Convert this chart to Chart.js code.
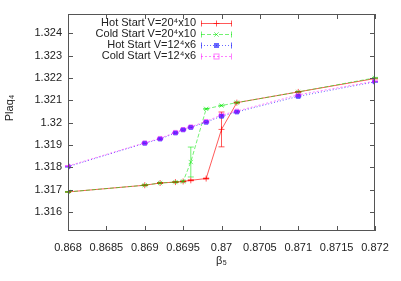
<!DOCTYPE html>
<html>
<head>
<meta charset="utf-8">
<script src="https://cdn.jsdelivr.net/npm/chart.js@4/dist/chart.umd.min.js"></script>
<style>
html, body { margin: 0; padding: 0; background: #fff; }
canvas { display: block; }
</style>
</head>
<body>
<canvas id="plaqChart" width="401" height="281"></canvas>
<script>
// beta values (same set for every run)
const betas = [0.868, 0.869, 0.8692, 0.8694, 0.8695, 0.8696, 0.8698, 0.870, 0.8702, 0.871, 0.872];

// V=20^4x10
const hot20 = [1.3169, 1.3172, 1.3173, 1.31734, 1.31737, 1.31742, 1.3175, 1.3197, 1.3209, 1.32138, 1.32198];
const hot20Err = [0.00002, 0.00002, 0.00002, 0.00002, 0.00002, 0.00002, 0.00002, 0.00078, 0.00002, 0.00002, 0.00002];
const cold20 = [1.3169, 1.3172, 1.3173, 1.31734, 1.31737, 1.31824, 1.32062, 1.32077, 1.3209, 1.32138, 1.32201];
const cold20Err = [0.00002, 0.00002, 0.00002, 0.00002, 0.00002, 0.00067, 0.00002, 0.00002, 0.00002, 0.00002, 0.00002];

// V=12^4x6
const hot12 = [1.31803, 1.31908, 1.31927, 1.31954, 1.31968, 1.31979, 1.32002, 1.32029, 1.32048, 1.32118, 1.32183];
const hot12Err = [0.00002, 0.00002, 0.00002, 0.00002, 0.00002, 0.00002, 0.00002, 0.00002, 0.00002, 0.00002, 0.00002];
const cold12 = [1.31806, 1.3191, 1.3193, 1.31957, 1.3197, 1.31982, 1.32006, 1.32035, 1.32052, 1.32125, 1.32186];
const cold12Err = [0.00002, 0.00002, 0.00002, 0.00002, 0.00002, 0.00002, 0.00002, 0.00002, 0.00002, 0.00002, 0.00002];

const seriesLabels = ["Hot Start V=20\u2074x10", "Cold Start V=20\u2074x10", "Hot Start V=12\u2074x6", "Cold Start V=12\u2074x6"];
const xTitle = "\u03b2\u2085";
const yTitle = "Plaq\u2084";

const FONT = "11px 'Liberation Sans', Arial, sans-serif";
const AXIS = "#555";

const series = [
    { label: seriesLabels[0], ys: hot20, err: hot20Err, color: "rgba(255,0,0,0.65)", dash: [], style: "cross", fill: false },
    { label: seriesLabels[1], ys: cold20, err: cold20Err, color: "rgba(0,230,0,0.55)", dash: [4, 2], style: "crossRot", fill: false },
    { label: seriesLabels[2], ys: hot12, err: hot12Err, color: "rgba(40,40,255,0.7)", dash: [1, 2], style: "rect", fill: true },
    { label: seriesLabels[3], ys: cold12, err: cold12Err, color: "rgba(255,0,255,0.5)", dash: [2, 2], style: "rect", fill: false }
];

const datasets = series.map((s, i) => ({
    label: s.label,
    data: betas.map((b, k) => ({ x: b, y: s.ys[k] })),
    errors: s.err,
    borderColor: s.color,
    backgroundColor: s.fill ? s.color : "rgba(0,0,0,0)",
    borderWidth: 1,
    borderDash: s.dash,
    pointStyle: s.style,
    pointRadius: s.style === "rect" ? 2.7 : 3,
    pointBorderWidth: 1,
    tension: 0,
    order: series.length - i
}));

function drawMarker(ctx, s, x, y) {
    ctx.save();
    ctx.setLineDash([]);
    ctx.strokeStyle = s.color;
    ctx.fillStyle = s.color;
    ctx.lineWidth = 1;
    ctx.beginPath();
    if (s.style === "cross") {
        ctx.moveTo(x - 3, y); ctx.lineTo(x + 3, y);
        ctx.moveTo(x, y - 3); ctx.lineTo(x, y + 3);
        ctx.stroke();
    } else if (s.style === "crossRot") {
        ctx.moveTo(x - 2.2, y - 2.2); ctx.lineTo(x + 2.2, y + 2.2);
        ctx.moveTo(x - 2.2, y + 2.2); ctx.lineTo(x + 2.2, y - 2.2);
        ctx.stroke();
    } else {
        if (s.fill) ctx.fillRect(x - 2.5, y - 2.5, 5, 5);
        else ctx.strokeRect(x - 2.5, y - 2.5, 5, 5);
    }
    ctx.restore();
}

const gnuplotLook = {
    id: "gnuplotLook",
    beforeDatasetsDraw(chart) {
        const { ctx, scales: { x, y } } = chart;
        chart.data.datasets.forEach(ds => {
            ctx.save();
            ctx.strokeStyle = ds.borderColor;
            ctx.lineWidth = 1;
            ds.data.forEach((p, k) => {
                const e = ds.errors[k];
                const px = x.getPixelForValue(p.x);
                const y1 = y.getPixelForValue(p.y - e);
                const y2 = y.getPixelForValue(p.y + e);
                ctx.beginPath();
                ctx.moveTo(px, y1); ctx.lineTo(px, y2);
                ctx.moveTo(px - 3, y1); ctx.lineTo(px + 3, y1);
                ctx.moveTo(px - 3, y2); ctx.lineTo(px + 3, y2);
                ctx.stroke();
            });
            ctx.restore();
        });
    },
    afterDraw(chart) {
        const { ctx, chartArea: a, scales: { x, y } } = chart;
        ctx.save();
        // frame and inward ticks
        ctx.strokeStyle = AXIS;
        ctx.lineWidth = 1;
        ctx.strokeRect(a.left + 0.5, a.top + 0.5, a.right - a.left - 1, a.bottom - a.top - 1);
        ctx.beginPath();
        y.ticks.forEach(t => {
            const py = Math.round(y.getPixelForValue(t.value)) + 0.5;
            ctx.moveTo(a.left, py); ctx.lineTo(a.left + 5, py);
            ctx.moveTo(a.right - 5, py); ctx.lineTo(a.right, py);
        });
        x.ticks.forEach(t => {
            const px = Math.round(x.getPixelForValue(t.value)) + 0.5;
            ctx.moveTo(px, a.bottom); ctx.lineTo(px, a.bottom - 5);
            ctx.moveTo(px, a.top); ctx.lineTo(px, a.top + 5);
        });
        ctx.stroke();

        // axis titles
        ctx.fillStyle = "#222";
        ctx.font = FONT;
        ctx.textAlign = "center";
        ctx.textBaseline = "middle";
        ctx.fillText(xTitle, (a.left + a.right) / 2, 261);
        ctx.save();
        ctx.translate(10, 108);
        ctx.rotate(-Math.PI / 2);
        ctx.fillText(yTitle, 0, 0);
        ctx.restore();

        // key, gnuplot style: text right-aligned, sample to the right
        ctx.textAlign = "right";
        series.forEach((s, i) => {
            const ly = 23 + i * 11;
            ctx.fillStyle = "#222";
            ctx.fillText(s.label, 196, ly);
            ctx.save();
            ctx.strokeStyle = s.color;
            ctx.lineWidth = 1;
            ctx.setLineDash(s.dash);
            ctx.beginPath();
            ctx.moveTo(201, ly + 0.5); ctx.lineTo(232, ly + 0.5);
            ctx.stroke();
            ctx.setLineDash([]);
            ctx.beginPath();
            ctx.moveTo(201.5, ly - 2.5); ctx.lineTo(201.5, ly + 3.5);
            ctx.moveTo(231.5, ly - 2.5); ctx.lineTo(231.5, ly + 3.5);
            ctx.stroke();
            ctx.restore();
            drawMarker(ctx, s, 216.5, ly + 0.5);
        });
        ctx.restore();
    }
};

new Chart(document.getElementById("plaqChart"), {
    type: "line",
    data: { datasets: datasets },
    options: {
        responsive: false,
        animation: false,
        layout: { padding: { top: 14, right: 26, left: 0, bottom: 0 } },
        plugins: { legend: { display: false }, tooltip: { enabled: false } },
        scales: {
            x: {
                type: "linear",
                min: 0.868,
                max: 0.872,
                grid: { display: false, drawTicks: false },
                border: { display: false },
                ticks: {
                    stepSize: 0.0005,
                    padding: 10,
                    color: "#222",
                    font: { family: "'Liberation Sans', Arial, sans-serif", size: 11 },
                    maxRotation: 0,
                    autoSkip: false,
                    callback: v => String(parseFloat(v.toFixed(4)))
                },
                afterFit: s => { s.height = 50; }
            },
            y: {
                min: 1.31515,
                max: 1.32487,
                grid: { display: false, drawTicks: false },
                border: { display: false },
                ticks: {
                    stepSize: 0.001,
                    includeBounds: false,
                    padding: 6,
                    color: "#222",
                    font: { family: "'Liberation Sans', Arial, sans-serif", size: 11 },
                    callback: v => String(parseFloat(v.toFixed(3)))
                },
                afterFit: s => { s.width = 68; }
            }
        }
    },
    plugins: [gnuplotLook]
});
</script>
</body>
</html>
